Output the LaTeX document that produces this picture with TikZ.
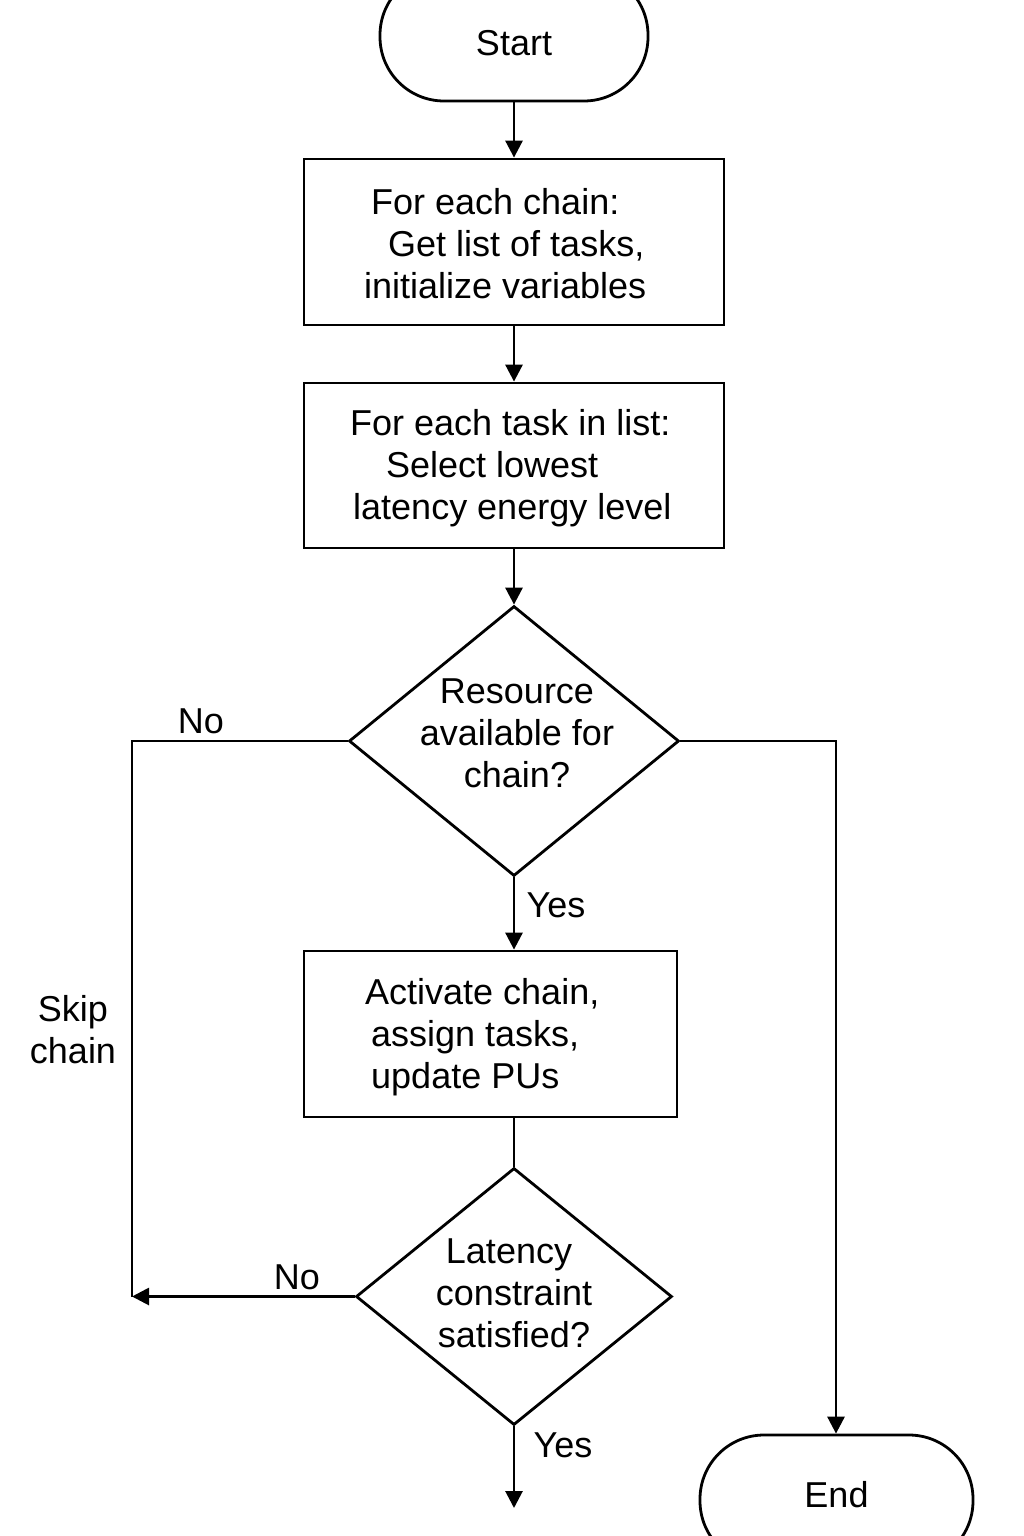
\documentclass[tikz,border=0pt]{standalone}
\usepackage{fontspec}
\setmainfont{Liberation Sans}
\usetikzlibrary{shapes.geometric,arrows.meta}
\begin{document}
\begin{tikzpicture}[x=1pt,y=-1pt,
  every node/.style={font=\fontsize{36}{42}\selectfont, text=black},
  flow/.style={line width=2.8pt, draw=black},
  arr/.style={flow, -{Triangle[length=17pt,width=17pt]}},
  procbox/.style={draw=black, line width=2.8pt, rectangle, inner sep=0pt},
  termbox/.style={draw=black, line width=2.8pt, rectangle, rounded corners=64pt, minimum width=268pt, minimum height=130pt, inner sep=0pt},
  decbox/.style={draw=black, line width=2.8pt, diamond, inner sep=0pt},
  txt/.style={align=left, anchor=west, inner sep=0pt},
  ctxt/.style={align=center, inner sep=0pt}
]
\useasboundingbox (0,0) rectangle (1024,1536);
\fill[white] (0,0) rectangle (1024,1536);

% shapes
\node[termbox] (start) at (514,36) {};
\node[ctxt] (starttxt) at (514,43) {Start};

\node[procbox, minimum width=420pt, minimum height=166pt] (b1) at (514,242) {};
\node[txt] (b1txt) at (364,244) {\hspace*{7pt}For each chain:\\\hspace*{24pt}Get list of tasks,\\initialize variables};

\node[procbox, minimum width=420pt, minimum height=165pt] (b2) at (514,465.5) {};
\node[txt] (b2txt) at (350,468) {For each task in list:\\\hspace*{36pt}Select lowest\\\hspace*{3pt}latency energy level};

\node[decbox, minimum width=330pt, minimum height=270pt] (d1) at (514,741) {};
\node[ctxt] (d1txt) at (517,733) {Resource\\available for\\chain?};

\node[procbox, minimum width=373pt, minimum height=166pt] (b3) at (490.5,1034) {};
\node[txt] (b3txt) at (365,1037) {Activate chain,\\\hspace*{6pt}assign tasks,\\\hspace*{6pt}update PUs};

\node[decbox, minimum width=316pt, minimum height=257pt] (d2) at (514,1296.5) {};
\node[ctxt] (d2txt) at (514,1293) {\hspace*{-10pt}Latency\\constraint\\satisfied?};

\node[termbox, minimum width=273pt] (stop) at (836.5,1500) {};
\node[ctxt] (stoptxt) at (836.5,1495) {End};

% helper coordinates
\coordinate (lnw) at (132,741);
\coordinate (lsw) at (132,1296.5);
\coordinate (rne) at (836,741);
\coordinate (yesend) at (514,1508);

% connectors
\draw[arr] (start.south) -- (b1.north);
\draw[arr] (b1.south) -- (b2.north);
\draw[arr] (b2.south) -- (d1.north);
\draw[arr] (d1.south) -- (b3.north -| d1.south);
\draw[flow] (b3.south -| d2.north) -- (d2.north);
\draw[flow, line join=miter] (d1.west) -- (lnw) -- (lsw);
\draw[arr] (d2.west) -- (lsw);
\draw[arr, line join=miter] (d1.east) -- (rne) -- (stop.north -| rne);
\draw[arr] (d2.south) -- (yesend);

% labels
\node[ctxt] (lno1) at (201,721) {No};
\node[ctxt] (lskip) at (73,1030) {Skip\\chain};
\node[ctxt] (lyes1) at (556,905) {Yes};
\node[ctxt] (lno2) at (297,1277) {No};
\node[ctxt] (lyes2) at (563,1445) {Yes};
\end{tikzpicture}
\end{document}
